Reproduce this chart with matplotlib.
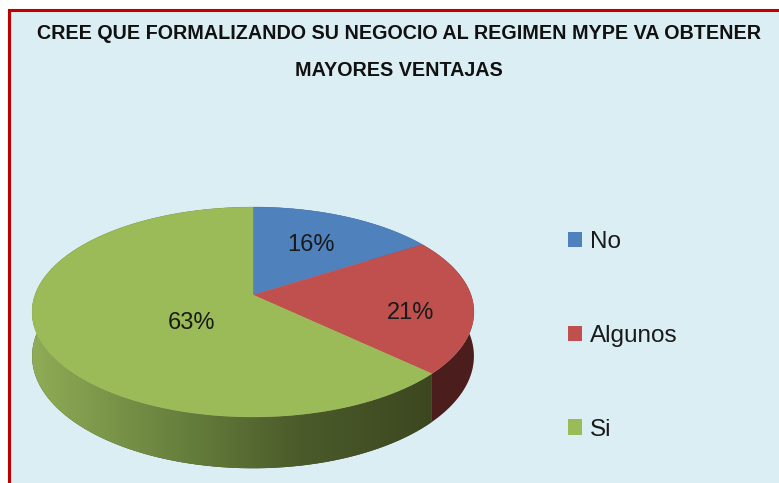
import numpy as np
import matplotlib
matplotlib.use("Agg")
import matplotlib.pyplot as plt
from matplotlib.patches import Polygon, Rectangle, Patch
from matplotlib.colors import LinearSegmentedColormap

TITLE = "CREE QUE FORMALIZANDO SU NEGOCIO AL REGIMEN MYPE VA OBTENER\nMAYORES VENTAJAS"
LABELS = ["No", "Algunos", "Si"]
PERCENTS = [16, 21, 63]
TOP_COLORS = ["#4F81BD", "#C0504D", "#9BBB59"]
SIDE_COLORS = ["#2a4466", "#4b1d1d", "#3d4822"]

# pie geometry in pixels (perspective-projected disc)
CX, CY = 253, 295
HX, VY = 218, 102.2
PERSP = -0.162
DEPTH = 43
LABEL_R = [0.6, 0.72, 0.3]
LABEL_DY = [0, 11, 16]

plt.rcParams["font.family"] = ["Liberation Sans", "DejaVu Sans"]


def project(u, v, drop=0.0):
    den = 1 + PERSP * v
    return CX + HX * u / den, CY + VY * v / den + drop / den


def arc(t0, t1, n=120, drop=False):
    t = np.linspace(t0, t1, n)
    u, v = np.sin(t), -np.cos(t)
    return project(u, v, DEPTH if drop else 0.0)


fig = plt.figure(figsize=(7.79, 4.83), dpi=100)
ax = fig.add_axes([0, 0, 1, 1])
ax.set_xlim(0, 779)
ax.set_ylim(483, 0)
ax.axis("off")

ax.add_patch(Rectangle((9, 10), 800, 500, facecolor="#DBEEF4",
                       edgecolor="#C00000", linewidth=2.2, zorder=0))

fracs = np.array(PERCENTS, dtype=float) / sum(PERCENTS)
bounds = np.concatenate([[0], np.cumsum(fracs)]) * 2 * np.pi

green_side = LinearSegmentedColormap.from_list(
    "gside", ["#8fac56", "#6b8540", "#4b5b2a", "#3c4720"])

# side walls
for i in range(len(PERCENTS)):
    t0, t1 = bounds[i], bounds[i + 1]
    xt, yt = arc(t0, t1)
    xb, yb = arc(t0, t1, drop=True)
    pts = np.column_stack([np.concatenate([xt, xb[::-1]]),
                           np.concatenate([yt, yb[::-1]])])
    poly = Polygon(pts, closed=True, facecolor=SIDE_COLORS[i],
                   edgecolor="none", zorder=2)
    ax.add_patch(poly)
    if i == 2:
        grad = np.linspace(0, 1, 256).reshape(1, -1)
        im = ax.imshow(grad, cmap=green_side, aspect="auto",
                       extent=[CX - HX * 1.02, CX + HX * 0.82, 480, 280],
                       zorder=3, interpolation="bilinear")
        im.set_clip_path(poly)

# top faces
for i in range(len(PERCENTS)):
    t0, t1 = bounds[i], bounds[i + 1]
    xt, yt = arc(t0, t1)
    pts = np.column_stack([np.concatenate([[CX], xt]),
                           np.concatenate([[CY], yt])])
    ax.add_patch(Polygon(pts, closed=True, facecolor=TOP_COLORS[i],
                         edgecolor=TOP_COLORS[i], linewidth=0.3, zorder=5))

# data labels
for i, p in enumerate(PERCENTS):
    tm = (bounds[i] + bounds[i + 1]) / 2
    r = LABEL_R[i]
    x, y = project(r * np.sin(tm), -r * np.cos(tm))
    ax.text(x, y + LABEL_DY[i], f"{p}%", ha="center", va="center",
            fontsize=17, color="#1a1a1a", zorder=6)

ax.text(399, 52, TITLE, ha="center", va="center", fontsize=14.2,
        fontweight="bold", color="#111111", linespacing=2.2, zorder=6)

handles = [Patch(facecolor=c, edgecolor="none") for c in TOP_COLORS]
leg = ax.legend(handles, LABELS, loc="upper left",
                bbox_to_anchor=(546, 209), bbox_transform=ax.transData,
                frameon=False, fontsize=17.5, labelspacing=2.96,
                handlelength=0.6, handleheight=0.6, handletextpad=0.3)
for t in leg.get_texts():
    t.set_color("#1a1a1a")

fig.savefig("out.png", dpi=100, facecolor="white")
